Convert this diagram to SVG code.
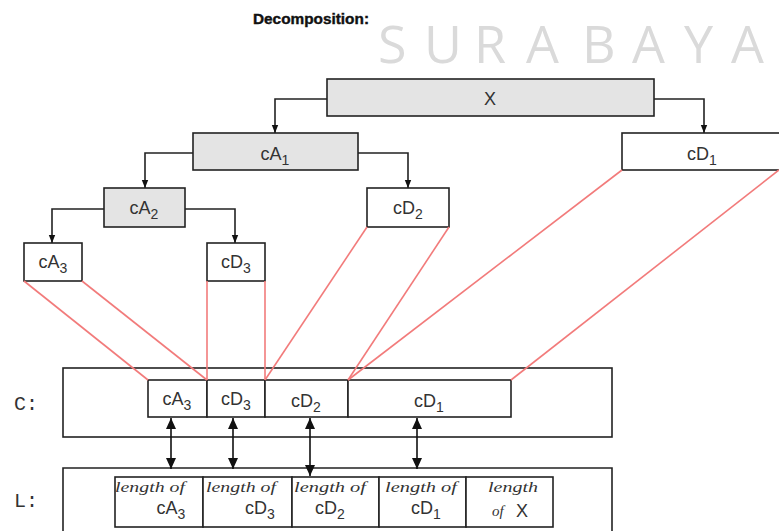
<svg xmlns="http://www.w3.org/2000/svg" width="779" height="531" viewBox="0 0 779 531">
  <style>
    .box { stroke: #222; stroke-width: 1.6; }
    .grey { fill: #e4e4e4; }
    .white { fill: #fff; }
    .lbl { font-family: "Liberation Sans", Arial, sans-serif; font-size: 18px; fill: #333; text-anchor: middle; }
    .sub { font-size: 14px; }
    .tree { fill: none; stroke: #222; stroke-width: 1.6; }
    .map { stroke: #f27b7b; stroke-width: 1.6; fill: none; }
    .link { stroke: #111; stroke-width: 1.6; fill: none; }
    .mono { font-family: "Liberation Mono", "Courier New", monospace; font-size: 20px; fill: #333; }
    .len { font-family: "Liberation Serif", "Times New Roman", serif; font-style: italic; font-size: 15px; fill: #333; }
  </style>
  <defs>
    <marker id="tip" markerUnits="userSpaceOnUse" markerWidth="8" markerHeight="8" viewBox="0 0 8 8" refX="8" refY="4" orient="auto">
      <path d="M0,0.8 L8,4 L0,7.2 Z" fill="#111"/>
    </marker>
    <marker id="big" markerUnits="userSpaceOnUse" markerWidth="11" markerHeight="11" viewBox="0 0 11 11" refX="11" refY="5.5" orient="auto-start-reverse">
      <path d="M0,0.5 L11,5.5 L0,10.5 Z" fill="#111"/>
    </marker>
  </defs>

  <rect width="779" height="531" fill="#fff"/>

  <!-- heading and faded city name -->
  <text x="253" y="24" font-family="Liberation Sans, Arial, sans-serif" font-weight="bold" font-size="15" textLength="116" lengthAdjust="spacingAndGlyphs" fill="#111" stroke="#111" stroke-width="0.4">Decomposition:</text>
  <text y="63" font-family="Open Sans, Liberation Sans, sans-serif" font-size="52" fill="#dadada">
    <tspan x="378">S</tspan><tspan x="424">U</tspan><tspan x="474">R</tspan><tspan x="526">A</tspan><tspan x="582">B</tspan><tspan x="632">A</tspan><tspan x="684">Y</tspan><tspan x="731">A</tspan>
  </text>

  <!-- decomposition tree -->
  <g id="node-X">
    <rect class="box grey" x="327" y="79" width="327" height="37"/>
    <text class="lbl" x="490" y="105" font-size="19">X</text>
  </g>
  <g id="node-cA1">
    <rect class="box grey" x="193" y="133" width="165" height="37"/>
    <text class="lbl" x="275" y="160">cA<tspan class="sub" dy="5">1</tspan></text>
  </g>
  <g id="node-cD1">
    <rect class="box white" x="622" y="133" width="160" height="37"/>
    <text class="lbl" x="702" y="160">cD<tspan class="sub" dy="5">1</tspan></text>
  </g>
  <g id="node-cA2">
    <rect class="box grey" x="104" y="188" width="81" height="39"/>
    <text class="lbl" x="144" y="214">cA<tspan class="sub" dy="5">2</tspan></text>
  </g>
  <g id="node-cD2">
    <rect class="box white" x="367" y="188" width="82" height="39"/>
    <text class="lbl" x="408" y="214">cD<tspan class="sub" dy="5">2</tspan></text>
  </g>
  <g id="node-cA3">
    <rect class="box white" x="24" y="243" width="58" height="38"/>
    <text class="lbl" x="53" y="268">cA<tspan class="sub" dy="5">3</tspan></text>
  </g>
  <g id="node-cD3">
    <rect class="box white" x="207" y="243" width="58" height="38"/>
    <text class="lbl" x="236" y="268">cD<tspan class="sub" dy="5">3</tspan></text>
  </g>

  <!-- coefficient vector C -->
  <g id="vector-C">
    <text class="mono" x="14" y="410">C:</text>
    <rect class="box white" x="63" y="368" width="549" height="69"/>
    <rect class="box white" x="148" y="380" width="59" height="37"/>
    <rect class="box white" x="207" y="380" width="58" height="37"/>
    <rect class="box white" x="265" y="380" width="83" height="37"/>
    <rect class="box white" x="348" y="380" width="163" height="37"/>
    <text class="lbl" x="177" y="405">cA<tspan class="sub" dy="5">3</tspan></text>
    <text class="lbl" x="236" y="405">cD<tspan class="sub" dy="5">3</tspan></text>
    <text class="lbl" x="306" y="407">cD<tspan class="sub" dy="5">2</tspan></text>
    <text class="lbl" x="429" y="407">cD<tspan class="sub" dy="5">1</tspan></text>
  </g>

  <!-- bookkeeping vector L -->
  <g id="vector-L">
    <text class="mono" x="14" y="507">L:</text>
    <path class="box white" d="M63,540 V468 H612 V540"/>
    <rect class="box white" x="115" y="477" width="88" height="50"/>
    <rect class="box white" x="203" y="477" width="89" height="50"/>
    <rect class="box white" x="292" y="477" width="87" height="50"/>
    <rect class="box white" x="379" y="477" width="87" height="50"/>
    <rect class="box white" x="466" y="477" width="87" height="50"/>

    <text class="len" x="115" y="492" textLength="70" lengthAdjust="spacingAndGlyphs">length of</text>
    <text class="lbl" x="171" y="514">cA<tspan class="sub" dy="5">3</tspan></text>

    <text class="len" x="206" y="492" textLength="70" lengthAdjust="spacingAndGlyphs">length of</text>
    <text class="lbl" x="260" y="514">cD<tspan class="sub" dy="5">3</tspan></text>

    <text class="len" x="294" y="492" textLength="72" lengthAdjust="spacingAndGlyphs">length of</text>
    <text class="lbl" x="330" y="514">cD<tspan class="sub" dy="5">2</tspan></text>

    <text class="len" x="385" y="492" textLength="72" lengthAdjust="spacingAndGlyphs">length of</text>
    <text class="lbl" x="426" y="514">cD<tspan class="sub" dy="5">1</tspan></text>

    <text class="len" x="488" y="492" textLength="50" lengthAdjust="spacingAndGlyphs">length</text>
    <text class="len" x="492" y="516">of</text>
    <text class="lbl" x="522" y="517" font-size="19">X</text>
  </g>

  <!-- connectors drawn over the boxes they join -->
  <g id="connectors">
    <path class="tree" d="M327,99 H275 V133" marker-end="url(#tip)"/>
    <path class="tree" d="M654,99 H704 V133" marker-end="url(#tip)"/>
    <path class="tree" d="M193,153 H145 V188" marker-end="url(#tip)"/>
    <path class="tree" d="M358,153 H408 V188" marker-end="url(#tip)"/>
    <path class="tree" d="M104,209 H52 V243" marker-end="url(#tip)"/>
    <path class="tree" d="M185,209 H235 V243" marker-end="url(#tip)"/>

    <!-- coefficient placement into C -->
    <line class="map" x1="24" y1="281" x2="148" y2="380"/>
    <line class="map" x1="82" y1="281" x2="207" y2="380"/>
    <line class="map" x1="207" y1="281" x2="207" y2="380"/>
    <line class="map" x1="265" y1="281" x2="265" y2="380"/>
    <line class="map" x1="367" y1="227" x2="265" y2="380"/>
    <line class="map" x1="449" y1="227" x2="348" y2="380"/>
    <line class="map" x1="622" y1="170" x2="348" y2="380"/>
    <line class="map" x1="779" y1="170" x2="511" y2="380"/>

    <!-- C to L links -->
    <path class="link" d="M171,418 V469" marker-start="url(#big)" marker-end="url(#big)"/>
    <path class="link" d="M233,418 V469" marker-start="url(#big)" marker-end="url(#big)"/>
    <path class="link" d="M310,418 V476" marker-start="url(#big)" marker-end="url(#big)"/>
    <path class="link" d="M417,418 V469" marker-start="url(#big)" marker-end="url(#big)"/>
  </g>
</svg>
